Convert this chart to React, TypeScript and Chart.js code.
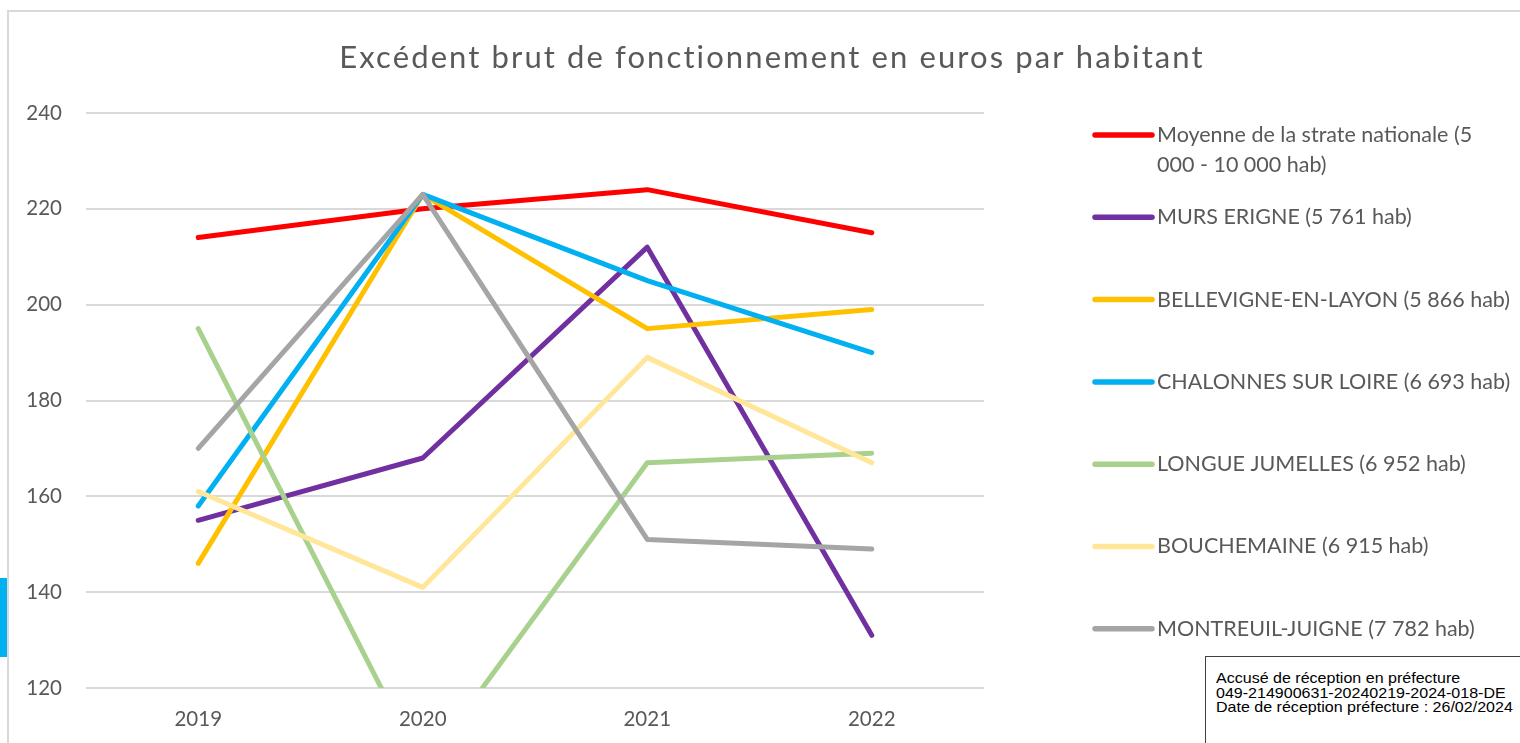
import React, { useEffect, useRef } from "react";
import { Chart, registerables } from "chart.js";

Chart.register(...registerables);

const years = ["2019", "2020", "2021", "2022"];
const moyenne = [214, 220, 224, 215];
const mursErigne = [155, 168, 212, 131];
const bellevigne = [146, 223, 195, 199];
const chalonnes = [158, 223, 205, 190];
const longueJumelles = [195, 103, 167, 169];
const bouchemaine = [161, 141, 189, 167];
const montreuil = [170, 223, 151, 149];

// "\n" marks where the legend text wraps, as in the original
const seriesNames = [
  "Moyenne de la strate nationale (5\n000 - 10 000 hab)",
  "MURS ERIGNE (5 761 hab)",
  "BELLEVIGNE-EN-LAYON (5 866 hab)",
  "CHALONNES SUR LOIRE (6 693 hab)",
  "LONGUE JUMELLES (6 952 hab)",
  "BOUCHEMAINE (6 915 hab)",
  "MONTREUIL-JUIGNE (7 782 hab)",
];
const seriesValues = [moyenne, mursErigne, bellevigne, chalonnes, longueJumelles, bouchemaine, montreuil];
const seriesColors = ["#FF0000", "#7030A0", "#FFC000", "#00B0F0", "#A9D18E", "#FFE699", "#A5A5A5"];

const chartTitle = "Excédent brut de fonctionnement en euros par habitant";
const yMin = 120;
const yMax = 240;
const yStep = 20;

const FONT = "Lato, 'Open Sans', sans-serif";
const TEXT_COLOR = "#595959";

const titlePlugin = {
  id: "customTitle",
  afterDraw(chart: any) {
    const ctx = chart.ctx;
    ctx.save();
    ctx.font = `31px ${FONT}`;
    ctx.fillStyle = TEXT_COLOR;
    ctx.textAlign = "center";
    ctx.textBaseline = "middle";
    (ctx as any).letterSpacing = "2.1px";
    ctx.fillText(chartTitle, 772, 58);
    ctx.restore();
  },
};

const legendPlugin = {
  id: "customLegend",
  afterDraw(chart: any) {
    const ctx = chart.ctx;
    const x0 = 1095;
    const x1 = 1152;
    const tx = 1157;
    const lineH = 30;
    const rowStart = 135;
    const rowStep = 82.3;
    ctx.save();
    ctx.font = `21.5px ${FONT}`;
    ctx.textBaseline = "middle";
    ctx.textAlign = "left";
    chart.data.datasets.forEach((ds: any, i: number) => {
      const y = rowStart + i * rowStep;
      ctx.strokeStyle = ds.borderColor;
      ctx.lineWidth = 5.5;
      ctx.lineCap = "round";
      ctx.beginPath();
      ctx.moveTo(x0, y);
      ctx.lineTo(x1, y);
      ctx.stroke();
      const lines = String(ds.label).split("\n");
      ctx.fillStyle = TEXT_COLOR;
      lines.forEach((ln, k) => ctx.fillText(ln, tx, y + k * lineH));
    });
    ctx.restore();
  },
};

function LineChart() {
  const ref = useRef<HTMLCanvasElement>(null);
  useEffect(() => {
    if (!ref.current) return;
    const n = seriesValues.length;
    const chart = new Chart(ref.current, {
      type: "line",
      data: {
        labels: years,
        datasets: seriesValues.map((vals, i) => ({
          label: seriesNames[i],
          data: vals,
          borderColor: seriesColors[i],
          backgroundColor: seriesColors[i],
          borderWidth: 5,
          pointRadius: 0,
          pointHoverRadius: 0,
          tension: 0,
          fill: false,
          borderCapStyle: "round",
          borderJoinStyle: "round",
          order: n - i,
          clip: { left: 6, right: 6, top: 6, bottom: 0 },
        })),
      },
      options: {
        responsive: false,
        animation: false,
        events: [],
        layout: { padding: { top: 113, left: 0, right: 536, bottom: 15 } },
        plugins: {
          legend: { display: false },
          title: { display: false },
          tooltip: { enabled: false },
        },
        scales: {
          x: {
            offset: true,
            grid: { display: false, drawTicks: false },
            border: { display: false },
            ticks: {
              color: TEXT_COLOR,
              font: { family: FONT, size: 20.5 },
              padding: 19,
            },
            afterFit(scale: any) {
              scale.height = 40;
            },
          },
          y: {
            min: yMin,
            max: yMax,
            grid: { color: "#D9D9D9", lineWidth: 2, drawTicks: false },
            border: { display: false },
            ticks: {
              stepSize: yStep,
              color: TEXT_COLOR,
              font: { family: FONT, size: 20.5 },
              padding: 24,
            },
            afterFit(scale: any) {
              scale.width = 86;
            },
          },
        },
      },
      plugins: [titlePlugin, legendPlugin],
    } as any);
    return () => chart.destroy();
  }, []);
  return <canvas ref={ref} width={1520} height={743} style={{ position: "absolute", left: 0, top: 0 }} />;
}

export default function App() {
  return (
    <div
      style={{
        position: "fixed",
        left: 0,
        top: 0,
        width: 1520,
        height: 743,
        overflow: "hidden",
        background: "#ffffff",
      }}
    >
      <div
        style={{
          position: "absolute",
          left: 7,
          top: 10,
          width: 1600,
          height: 800,
          borderTop: "2px solid #D9D9D9",
          borderLeft: "2px solid #D9D9D9",
        }}
      />
      <div style={{ position: "absolute", left: 0, top: 578, width: 7, height: 79, background: "#00B0F0" }} />
      <LineChart />
      <div
        style={{
          position: "absolute",
          left: 1205,
          top: 656,
          width: 330,
          height: 100,
          border: "1.5px solid #404040",
          background: "#ffffff",
          boxSizing: "border-box",
        }}
      >
        <div
          style={{
            position: "absolute",
            left: 10,
            top: 14,
            transform: "scaleX(1.13)",
            transformOrigin: "0 0",
            fontFamily: "'Liberation Sans', Arial, sans-serif",
            fontSize: 14.2,
            lineHeight: "14.5px",
            color: "#000000",
            whiteSpace: "nowrap",
          }}
        >
          <div>Accusé de réception en préfecture</div>
          <div>049-214900631-20240219-2024-018-DE</div>
          <div>Date de réception préfecture : 26/02/2024</div>
        </div>
      </div>
    </div>
  );
}
